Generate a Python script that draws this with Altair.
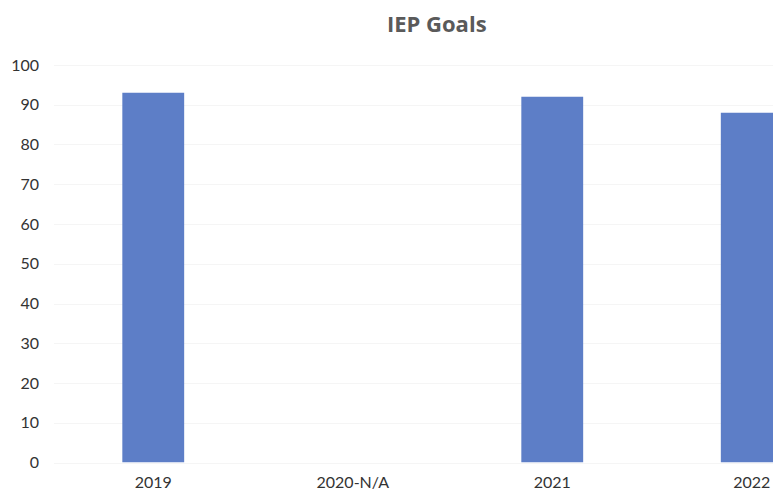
import altair as alt
import pandas as pd

years = ["2019", "2020-N/A", "2021", "2022"]
values = [93, None, 92, 88]

df = pd.DataFrame({"year": years, "value": values})

chart = alt.Chart(df).mark_bar(color="#5d7ec7", clip=True).encode(
    x=alt.X("year:N", sort=years,
            scale=alt.Scale(domain=years, range=[0, 798], paddingInner=0.69, paddingOuter=0.345),
            axis=alt.Axis(title=None, labelAngle=0, domain=False, ticks=False, grid=False,
                          labelFont="Lato", labelFontSize=16, labelColor="#333333",
                          labelPadding=12)),
    y=alt.Y("value:Q", scale=alt.Scale(domain=[0, 100], nice=False),
            axis=alt.Axis(title=None, values=list(range(0, 101, 10)), domain=False, ticks=False,
                          grid=True, gridColor="#f5f5f5", labelFont="Lato", labelFontSize=16,
                          labelColor="#333333", labelPadding=15)),
).properties(
    width=719.5,
    height=397.5,
    title=alt.TitleParams("IEP Goals", font="Open Sans", fontSize=22, fontWeight="bold",
                          color="#5a5a5a", anchor="middle", offset=20, dx=23.5),
    autosize=alt.AutoSizeParams(type="none"),
    padding={"left": 45.5, "top": 57, "right": 0, "bottom": 32},
).configure_view(stroke=None)

chart.save("out.html", embed_options={"renderer": "svg", "actions": False})
